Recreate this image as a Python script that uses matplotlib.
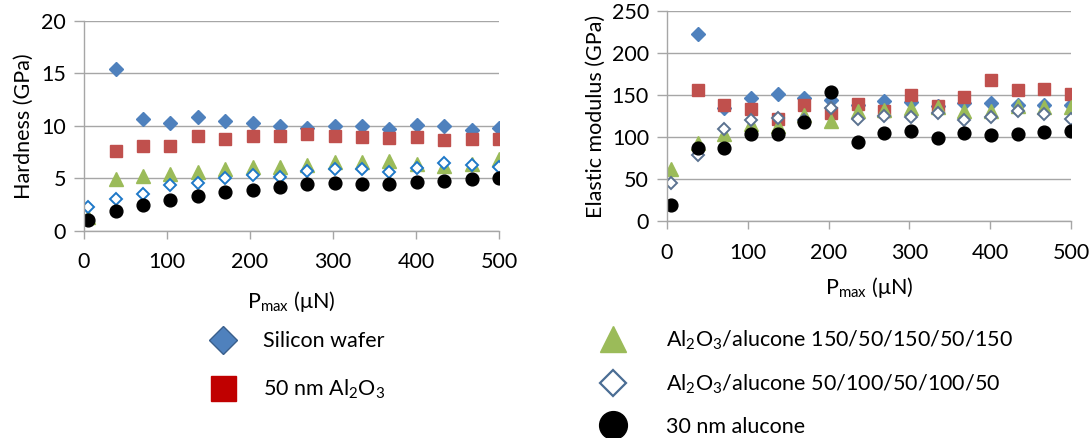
import numpy as np
import matplotlib
matplotlib.use("Agg")
import matplotlib.pyplot as plt
from matplotlib.lines import Line2D

plt.rcParams['font.family'] = ['Lato', 'DejaVu Sans']
plt.rcParams['mathtext.default'] = 'regular'

# load steps, uN
p_max = np.array([5, 38, 71, 104, 137, 170, 203, 236, 269, 302, 335, 368, 401, 434, 467, 500])
nan = np.nan

# hardness, GPa
h_si = [nan, 15.4, 10.6, 10.3, 10.8, 10.45, 10.25, 9.95, 9.8, 9.95, 10.0, 9.7, 10.05, 9.95, 9.6, 9.8]
h_al2o3 = [nan, 7.6, 8.1, 8.1, 9.0, 8.75, 9.0, 9.0, 9.2, 9.0, 8.95, 8.85, 8.95, 8.6, 8.7, 8.75]
h_150 = [1.3, 4.9, 5.25, 5.4, 5.6, 5.9, 6.05, 6.1, 6.25, 6.55, 6.55, 6.65, 6.35, 6.15, 6.35, 6.8]
h_50 = [2.2, 3.0, 3.45, 4.3, 4.55, 5.0, 5.3, 5.15, 5.65, 5.9, 5.85, 5.6, 5.95, 6.4, 6.3, 6.05]
h_alucone = [1.0, 1.9, 2.4, 2.9, 3.25, 3.7, 3.9, 4.15, 4.4, 4.5, 4.4, 4.45, 4.65, 4.7, 4.9, 5.0]

# elastic modulus, GPa
e_si = [nan, 223, 134, 146, 151, 146, 144, 138, 143, 142, 137, 140, 140, 138, 138, 138]
e_al2o3 = [nan, 155.5, 138.5, 133.5, 121.5, 138.5, 128.5, 139, 131.5, 150, 136.5, 147.5, 167.5, 156.5, 157.5, 151]
e_150 = [62, 93, 103, 115, 113, 126, 119, 130.5, 132.5, 134.5, 135.5, 130.5, 130.5, 137, 135.5, 135.5]
e_50 = [45, 78, 109.5, 120.5, 122.5, 120, 134.5, 122, 124.5, 123.5, 128.5, 120.5, 123.5, 130.5, 127.5, 121.5]
e_alucone = [19.5, 87, 87, 103, 104, 118, 153, 94, 105, 107.5, 99, 105, 102, 103, 106, 107.5]

labels = ['Silicon wafer', r'50 nm Al$_2$O$_3$',
          r'Al$_2$O$_3$/alucone 150/50/150/50/150',
          r'Al$_2$O$_3$/alucone 50/100/50/100/50', '30 nm alucone']

blue = '#4F81BD'
red = '#C0504D'
green = '#9BBB59'
grid_c = '#A6A6A6'
fs = 15.5

fig = plt.figure(figsize=(10.91, 4.38), dpi=100)
ax1 = fig.add_axes([0.077, 0.4737, 0.3804, 0.4783])
ax2 = fig.add_axes([0.6114, 0.4954, 0.3703, 0.4795])


def style(ax, ymax, ystep, ylabel, ypad, xpad):
    ax.set_xlim(0, 500)
    ax.set_ylim(0, ymax)
    ax.set_xticks(np.arange(0, 501, 100))
    ax.set_yticks(np.arange(0, ymax + 1, ystep))
    ax.yaxis.grid(True, color=grid_c, lw=1)
    ax.set_axisbelow(True)
    for s in ['top', 'right']:
        ax.spines[s].set_visible(False)
    for s in ['left', 'bottom']:
        ax.spines[s].set_color(grid_c)
        ax.spines[s].set_linewidth(1)
    ax.tick_params(axis='x', colors=grid_c, length=6, width=1, labelsize=fs,
                   labelcolor='black', pad=9.5)
    ax.tick_params(axis='y', colors=grid_c, length=7, width=1, labelsize=fs,
                   labelcolor='black', pad=6)
    ax.set_ylabel(ylabel, fontsize=fs, labelpad=ypad)
    ax.set_xlabel(r'P$_{max}$ (μN)', fontsize=fs, labelpad=xpad)


for ax, data, open_c in [(ax1, [h_si, h_al2o3, h_150, h_50, h_alucone], '#1E78C8'),
                         (ax2, [e_si, e_al2o3, e_150, e_50, e_alucone], '#5B7290')]:
    ax.plot(p_max, data[0], 'D', ms=6.8, color=blue, mec=blue, ls='none')
    ax.plot(p_max, data[1], 's', ms=8.8, color=red, mec=red, ls='none')
    ax.plot(p_max, data[2], '^', ms=9.5, color=green, mec=green, ls='none')
    ax.plot(p_max, data[3], 'D', ms=6.2, mfc='white', mec=open_c, mew=1.4, ls='none')
    ax.plot(p_max, data[4], 'o', ms=9.2, color='black', ls='none')

style(ax1, 20, 5, 'Hardness (GPa)', 5, 12)
style(ax2, 250, 50, 'Elastic modulus (GPa)', 4, 9)

# legends
leg1 = [Line2D([], [], marker='D', ls='none', ms=14, mfc=blue, mec='#3A5F8C', mew=1),
        Line2D([], [], marker='s', ls='none', ms=18, mfc='#C00000', mec='#C00000')]
leg2 = [Line2D([], [], marker='^', ls='none', ms=19, mfc=green, mec=green),
        Line2D([], [], marker='D', ls='none', ms=13, mfc='white', mec='#4A6D94', mew=1.6),
        Line2D([], [], marker='o', ls='none', ms=20, mfc='black', mec='black')]

fig.legend(leg1, labels[:2], loc='upper left', bbox_to_anchor=(0.1925, 0.244),
           frameon=False, fontsize=fs, handlelength=1.2, handletextpad=1.27,
           labelspacing=1.24, borderpad=0, borderaxespad=0)
fig.legend(leg2, labels[2:], loc='upper left', bbox_to_anchor=(0.550, 0.249),
           frameon=False, fontsize=fs, handlelength=1.2, handletextpad=1.87,
           labelspacing=0.96, borderpad=0, borderaxespad=0)

fig.savefig('out.png', dpi=100)
